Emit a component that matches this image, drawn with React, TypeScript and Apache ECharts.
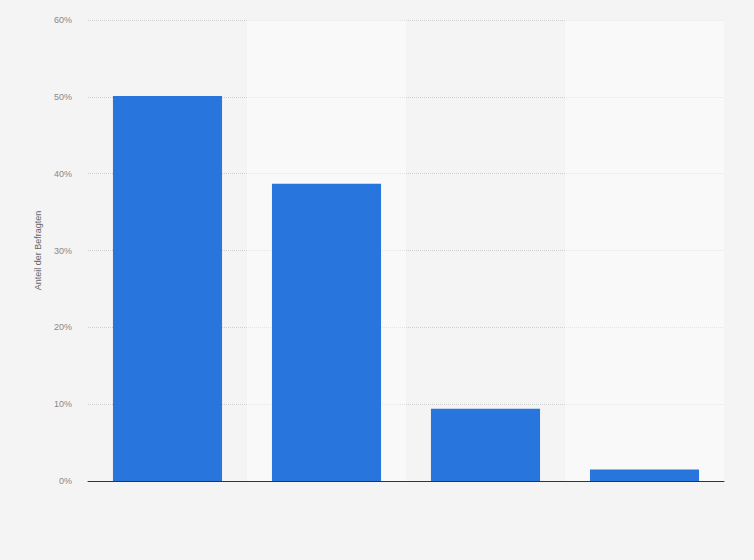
import React, { useEffect, useRef } from "react";
import * as echarts from "echarts";

const categories = ["A", "B", "C", "D"];
const values = [50.1, 38.7, 9.4, 1.5];
const yTicks = [0, 10, 20, 30, 40, 50, 60];

export default function App() {
  const ref = useRef<HTMLDivElement>(null);
  useEffect(() => {
    if (!ref.current) return;
    const chart = echarts.init(ref.current, null, { renderer: "svg" });
    chart.setOption({
      animation: false,
      backgroundColor: "#f4f4f4",
      grid: { left: 88, right: 30, top: 20, bottom: 79 },
      xAxis: {
        type: "category",
        data: categories,
        axisLabel: { show: false },
        axisTick: { show: false },
        axisLine: { show: true, lineStyle: { color: "#333", width: 1 } },
        splitArea: {
          show: true,
          areaStyle: { color: ["rgba(0,0,0,0)", "rgba(255,255,255,0.45)"] },
        },
      },
      yAxis: {
        type: "value",
        min: yTicks[0],
        max: yTicks[yTicks.length - 1],
        interval: 10,
        name: "Anteil der Befragten",
        nameLocation: "middle",
        nameGap: 46,
        nameRotate: 90,
        nameTextStyle: { color: "#666", fontSize: 9, fontFamily: "Arial, Liberation Sans, sans-serif" },
        axisLine: { show: false },
        axisTick: { show: false },
        axisLabel: {
          formatter: "{value}%",
          color: "#888",
          fontSize: 9,
          margin: 16,
          fontFamily: "Arial, Liberation Sans, sans-serif",
        },
        splitLine: { lineStyle: { color: "#d0d0d0", type: "dotted" } },
      },
      series: [
        {
          type: "bar",
          data: values,
          barWidth: "68.6%",
          itemStyle: { color: "#2876dd" },
        },
      ],
    });
    return () => chart.dispose();
  }, []);
  return <div ref={ref} style={{ width: 754, height: 560, position: "absolute", left: 0, top: 0 }} />;
}
